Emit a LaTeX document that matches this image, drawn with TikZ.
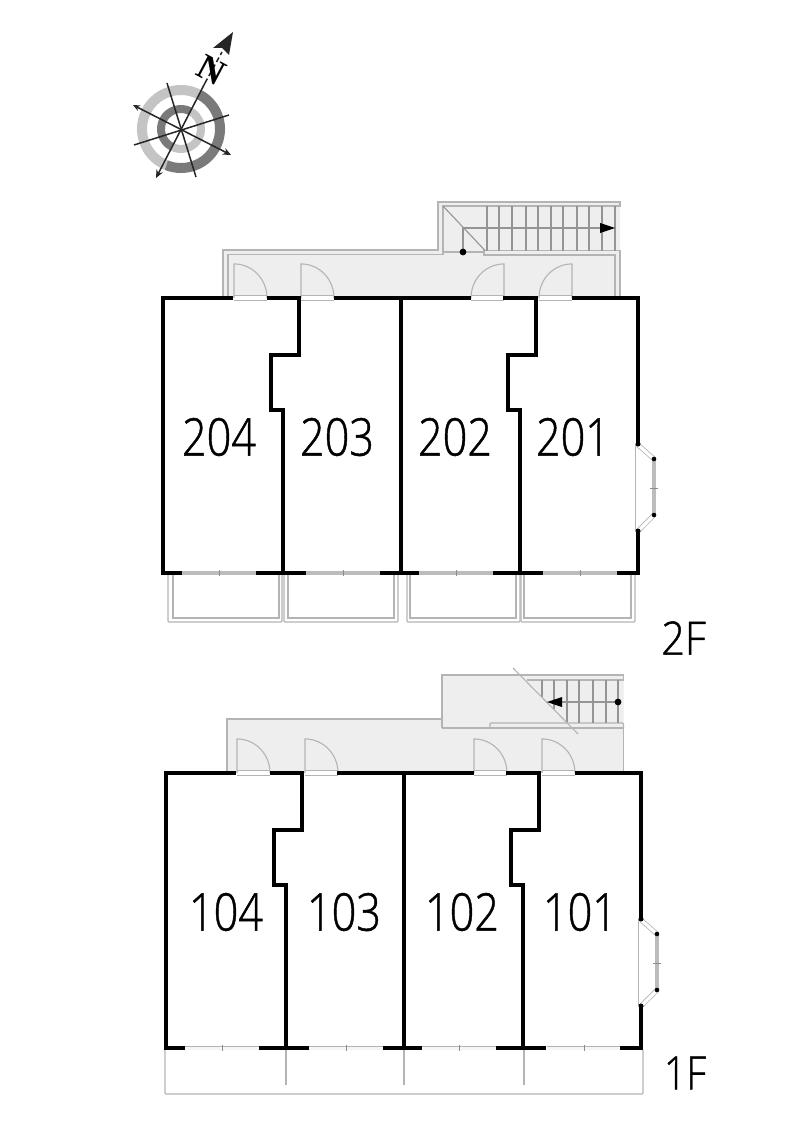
\documentclass[tikz,border=0pt]{standalone}
\usepackage{fontspec}
\setmainfont{Liberation Sans}
\newfontfamily\numfont[RawFeature={embolden=1.0}]{Open Sans Light}
\newfontfamily\compassfont{Liberation Serif}
\usetikzlibrary{arrows.meta}
\definecolor{floorfill}{HTML}{EEEEEE}
\definecolor{thingrey}{HTML}{B4B4B4}
\definecolor{glassgrey}{HTML}{BCBCBC}
\definecolor{tickgrey}{HTML}{8C8C8C}
\definecolor{ringdark}{HTML}{7A7A7A}
\definecolor{ringlight}{HTML}{C4C4C4}
\tikzset{
  wallline/.style={line width=4pt,black,line join=miter},
  greyline/.style={line width=1.1pt,thingrey},
  tickline/.style={line width=1pt,tickgrey},
  stairline/.style={line width=1.1pt,black!42},
  glassa/.style={line width=4.4pt,glassgrey},
  glassb/.style={line width=.9pt,thingrey,double=floorfill!60!white,double distance=3pt},
  bayglass/.style={line width=.8pt,thingrey,double=white,double distance=3.2pt},
  comline/.style={line width=1.5pt,black!85},
  roomnum/.style={font=\numfont\fontsize{52pt}{52pt}\selectfont,inner sep=0pt},
  floorname/.style={font=\numfont\fontsize{46pt}{46pt}\selectfont,inner sep=0pt},
  doorl/.pic={
    \fill[white] (0,-2.5) rectangle (33,2.5);
    \draw[greyline,line width=.7pt] (0,-2.5) -- (33,-2.5);
    \draw[greyline] (0,2.5) -- (33,2.5);
    \draw[greyline] (0,0) -- (0,-34) -- (2,-34) .. controls (19,-33) and (33,-18.5) .. (33,0);
  },
  doorr/.pic={
    \fill[white] (0,-2.5) rectangle (-33,2.5);
    \draw[greyline,line width=.7pt] (0,-2.5) -- (-33,-2.5);
    \draw[greyline] (0,2.5) -- (-33,2.5);
    \draw[greyline] (0,0) -- (0,-34) -- (-2,-34) .. controls (-19,-33) and (-33,-18.5) .. (-33,0);
  }
}
\newcommand{\UnitWalls}{%
  \draw[wallline] (233,298) -- (163,298) -- (163,573) -- (182,573);
  \draw[wallline] (267,298) -- (301,298);
  \draw[wallline] (334,298) -- (471,298);
  \draw[wallline] (503,298) -- (538,298);
  \draw[wallline] (572,298) -- (637.5,298) -- (637.5,444);
  \draw[wallline] (637.5,531) -- (637.5,573) -- (617,573);
  \draw[wallline] (256,573) -- (306,573);
  \draw[wallline] (380,573) -- (419,573);
  \draw[wallline] (493,573) -- (543,573);
  \draw[wallline] (299,298) -- (299,355) -- (271,355) -- (271,410) -- (283,410) -- (283,573);
  \draw[wallline] (401,298) -- (401,573);
  \draw[wallline] (536,298) -- (536,355) -- (508,355) -- (508,410) -- (520,410) -- (520,573);
  \draw[greyline] (635.5,444) -- (635.5,531);
  \draw[bayglass] (638,445) -- (654,459);
  \draw[bayglass] (654,515) -- (638,531);
  \draw[line width=4pt,glassgrey] (654,459) -- (654,515);
  \draw[tickline,line width=.7pt] (650,488) -- (658,488);
  \fill (654,459) circle (2.3);
  \fill (654,515) circle (2.3);
  \fill (638,444) circle (2.5);
  \fill (638,531) circle (2.5);
}
\begin{document}
\begin{tikzpicture}[x=1pt,y=-1pt]
\useasboundingbox (0,0) rectangle (800,1132);
\fill[white] (0,0) rectangle (800,1132);

% ---------- compass ----------
\begin{scope}[shift={(181,129)},y=1pt]
  \draw[ringlight,line width=10pt] (62:39) arc (62:248:39);
  \draw[ringdark,line width=10pt] (62:39) arc (62:-112:39);
  \draw[ringlight,line width=8pt] (62:20) arc (62:-118:20);
  \draw[ringdark,line width=8pt] (62:20) arc (62:242:20);
\end{scope}
\draw[comline,-{Stealth[length=8pt,width=7pt]}] (205,83) -- (156,178);
\draw[comline,{Stealth[length=7pt,width=6pt]}-{Stealth[length=8pt,width=7pt]}] (133,105) -- (231,155);
\draw[comline] (167,83) -- (196,177);
\draw[comline] (134,145) -- (229,115);
\draw[comline,dash pattern=on 5pt off 3pt] (205,83) -- (222,52);
\fill[black!85] (233,32) -- (213,48) -- (222,48) -- (229,55) -- cycle;
\node[rotate=-28,inner sep=0pt,font=\compassfont\bfseries\fontsize{36pt}{36pt}\selectfont] (compassN) at (212,70) {N};

% ---------- 2F ----------
\fill[floorfill] (223,298) -- (223,250) -- (438,250) -- (438,202) -- (620,202) -- (620,298) -- cycle;
\draw[greyline] (223,298) -- (223,250) -- (438,250) -- (438,202) -- (620,202) -- (620,206) -- (443,206) -- (443,254.5) -- (228,254.5) -- (228,298);
\draw[greyline] (443,252) -- (484,252);
\draw[greyline] (615,298) -- (615,255) -- (484,255) -- (484,250.5) -- (620,250.5) -- (620,298);
\foreach \tx in {487,499,512,526,538,551,563,577,589,602,615}
  \draw[stairline] (\tx,206) -- (\tx,250.5);
\draw[stairline] (443,206) -- (485,250.5);
\draw[stairline] (463,252) -- (463,228) -- (600,228);
\fill (615,228) -- (600,223) -- (600,233) -- cycle;
\fill (463,252) circle (3.4);
\pic at (234,298) {doorl};
\pic at (301,298) {doorl};
\pic at (504,298) {doorr};
\pic at (572,298) {doorr};
% balconies
\foreach \oa/\ob/\ia/\ib in {168/282/173/279,284/398/288/394,407/520/410/516,521/635/524/631}{
  \draw[greyline,rounded corners=1pt] (\oa,575) -- (\oa,622) -- (\ob,622) -- (\ob,575);
  \draw[greyline] (\ia,575) -- (\ia,618) -- (\ib,618) -- (\ib,575);
}
% windows
\foreach \wa/\wb in {182/256,306/380,419/493,543/617}{
  \draw[glassa] (\wa,573) -- (\wb,573);
  \draw[tickline] ({(\wa+\wb)/2},570) -- ({(\wa+\wb)/2},576);
}
\UnitWalls
\node[roomnum] (r204) at (219,437) {\scalebox{.83}[1]{204}};
\node[roomnum] (r203) at (337,437) {\scalebox{.83}[1]{203}};
\node[roomnum] (r202) at (455,437) {\scalebox{.83}[1]{202}};
\node[roomnum] (r201) at (573,437) {\scalebox{.83}[1]{201}};
\node[floorname] (f2) at (683.5,638) {\scalebox{.9}[1]{2F}};

% ---------- 1F ----------
\fill[floorfill] (227,773) -- (227,719) -- (442,719) -- (442,675) -- (623.5,675) -- (623.5,773) -- cycle;
\draw[greyline] (227,773) -- (227,719) -- (442,719);
\draw[greyline] (442,728) -- (442,675) -- (623.5,675) -- (623.5,680) -- (527,680);
\draw[greyline] (442,728) -- (623.5,728) -- (623.5,773);
\draw[greyline,rounded corners=1pt] (490,728) -- (490,723) -- (623.5,723) -- (623.5,728);
\draw[stairline] (542,680) -- (542,697);
\draw[stairline] (554,680) -- (554,709);
\draw[stairline] (567,680) -- (567,722);
\foreach \tx in {579,593,606,618}
  \draw[stairline] (\tx,680) -- (\tx,723);
\draw[greyline] (513,668) -- (578,734);
\draw[stairline] (562,702) -- (618,702);
\fill (547,702) -- (562,697) -- (562,707) -- cycle;
\fill (618,702) circle (3.4);
\pic at (237,773) {doorl};
\pic at (305,773) {doorl};
\pic at (474,773) {doorl};
\pic at (542,773) {doorl};
% terrace
\draw[greyline,rounded corners=1pt] (165,1050) -- (165,1094) -- (643,1094) -- (643,1050);
\foreach \dx in {286,404,524}
  \draw[greyline] (\dx,1050) -- (\dx,1085);
% windows
\foreach \wa/\wb in {185/260,309/384,422/497,547/621}{
  \draw[glassb] (\wa,1048) -- (\wb,1048);
  \draw[tickline] ({(\wa+\wb)/2},1045) -- ({(\wa+\wb)/2},1051);
}
\begin{scope}[shift={(3,475)}]
\UnitWalls
\end{scope}
\node[roomnum] (r104) at (226,912) {\scalebox{.83}[1]{104}};
\node[roomnum] (r103) at (344,912) {\scalebox{.83}[1]{103}};
\node[roomnum] (r102) at (462,912) {\scalebox{.83}[1]{102}};
\node[roomnum] (r101) at (580,912) {\scalebox{.83}[1]{101}};
\node[floorname] (f1) at (685,1073) {\scalebox{.85}[1]{1F}};
\end{tikzpicture}
\end{document}
